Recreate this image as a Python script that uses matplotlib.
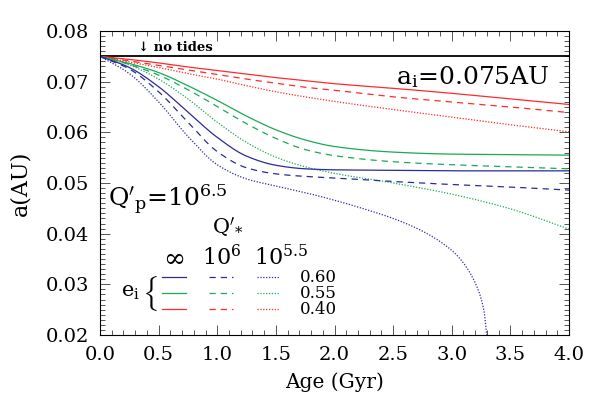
import matplotlib
import numpy as np

matplotlib.use("Agg")
import matplotlib.pyplot as plt
from matplotlib.ticker import MultipleLocator, FormatStrFormatter

plt.rcParams["font.family"] = ["DejaVu Serif"]
plt.rcParams["mathtext.fontset"] = "dejavuserif"

t_ref = [0.0, 0.25, 0.5, 0.75, 1.0, 1.25, 1.5, 1.75, 2.0, 2.5, 3.0, 3.5, 4.0]

# e_i = 0.40 (red)
red_inf = [0.0750, 0.0744, 0.0737, 0.0729, 0.0722, 0.0715, 0.0708, 0.0702, 0.0696, 0.0687, 0.0677, 0.0666, 0.0655]
red_q6 = [0.0750, 0.0741, 0.0732, 0.0723, 0.0714, 0.0705, 0.0697, 0.0689, 0.0683, 0.0670, 0.0660, 0.0650, 0.0639]
red_q55 = [0.0750, 0.0739, 0.0728, 0.0716, 0.0705, 0.0692, 0.0680, 0.0670, 0.0661, 0.0645, 0.0630, 0.0615, 0.0601]

# e_i = 0.55 (green)
green_inf = [0.0750, 0.0736, 0.0718, 0.0692, 0.0663, 0.0632, 0.0605, 0.0585, 0.0572, 0.0561, 0.0557, 0.0556, 0.0555]
green_q6 = [0.0750, 0.0734, 0.0713, 0.0684, 0.0651, 0.0617, 0.0588, 0.0566, 0.0554, 0.0542, 0.0536, 0.0532, 0.0528]
green_q55 = [0.0750, 0.0733, 0.0705, 0.0666, 0.0620, 0.0580, 0.0551, 0.0532, 0.0519, 0.0500, 0.0478, 0.0449, 0.0409]

# e_i = 0.60 (blue)
blue_inf = [0.0750, 0.0728, 0.0690, 0.0640, 0.0590, 0.0553, 0.0535, 0.0528, 0.0526, 0.0525, 0.0524, 0.0524, 0.0524]
blue_q6 = [0.0750, 0.0725, 0.0680, 0.0620, 0.0562, 0.0530, 0.0518, 0.0513, 0.0510, 0.0503, 0.0497, 0.0492, 0.0486]
t_blue_q55 = [0.0, 0.25, 0.5, 0.75, 1.0, 1.25, 1.5, 1.75, 2.0, 2.25, 2.5, 2.75, 3.0, 3.1, 3.2, 3.25, 3.28, 3.3]
blue_q55 = [0.0750, 0.0716, 0.0660, 0.0592, 0.0536, 0.0508, 0.0494, 0.0481, 0.0466, 0.0449, 0.0430, 0.0405,
            0.0367, 0.0342, 0.0303, 0.0272, 0.0240, 0.0195]

a_init = 0.075
ecc_labels = ["0.60", "0.55", "0.40"]

RED = "#ff2a2a"
GREEN = "#1aaa55"
BLUE = "#2b2b99"
SOLID = "-"
DASHED = (0, (5, 4))
DOTTED = (0, (1, 1.3))


def pchip(t, a, n=400):
    """Monotone cubic (Fritsch-Carlson) interpolation through the read points."""
    x = np.asarray(t, float)
    y = np.asarray(a, float)
    h = np.diff(x)
    d = np.diff(y) / h
    m = np.zeros_like(y)
    m[0], m[-1] = d[0], d[-1]
    for i in range(1, len(y) - 1):
        if d[i - 1] * d[i] <= 0:
            m[i] = 0.0
        else:
            w1 = 2 * h[i] + h[i - 1]
            w2 = h[i] + 2 * h[i - 1]
            m[i] = (w1 + w2) / (w1 / d[i - 1] + w2 / d[i])
    xx = np.linspace(x[0], x[-1], n)
    k = np.clip(np.searchsorted(x, xx) - 1, 0, len(x) - 2)
    s = (xx - x[k]) / h[k]
    h00 = 2 * s**3 - 3 * s**2 + 1
    h10 = s**3 - 2 * s**2 + s
    h01 = -2 * s**3 + 3 * s**2
    h11 = s**3 - s**2
    yy = h00 * y[k] + h10 * h[k] * m[k] + h01 * y[k + 1] + h11 * h[k] * m[k + 1]
    return xx, yy


fig = plt.figure(figsize=(5.99, 3.99), dpi=100)
ax = fig.add_axes([100 / 599, 64 / 399, 469 / 599, 304 / 399])

ax.axhline(a_init, color="black", lw=1.3)

curves = [
    (t_ref, red_inf, RED, SOLID), (t_ref, red_q6, RED, DASHED), (t_ref, red_q55, RED, DOTTED),
    (t_ref, green_inf, GREEN, SOLID), (t_ref, green_q6, GREEN, DASHED), (t_ref, green_q55, GREEN, DOTTED),
    (t_ref, blue_inf, BLUE, SOLID), (t_ref, blue_q6, BLUE, DASHED), (t_blue_q55, blue_q55, BLUE, DOTTED),
]
for t, a, c, ls in curves:
    tt, aa = pchip(t, a)
    ax.plot(tt, aa, color=c, ls=ls, lw=0.9)

ax.set_xlim(0, 4)
ax.set_ylim(0.02, 0.08)
ax.xaxis.set_major_locator(MultipleLocator(0.5))
ax.xaxis.set_minor_locator(MultipleLocator(0.1))
ax.yaxis.set_major_locator(MultipleLocator(0.01))
ax.yaxis.set_minor_locator(MultipleLocator(0.001))
ax.tick_params(which="both", direction="in", top=True, right=True, labelsize=14, width=0.7, color="#555555")
ax.tick_params(which="major", length=7, pad=8)
ax.tick_params(which="minor", length=3.5)
ax.xaxis.set_major_formatter(FormatStrFormatter("%.1f"))
ax.yaxis.set_major_formatter(FormatStrFormatter("%.2f"))
for s in ax.spines.values():
    s.set_linewidth(0.8)

ax.set_xlabel("Age (Gyr)", fontsize=14.5, labelpad=6)
ax.set_ylabel("a(AU)", fontsize=16, labelpad=10)

ax.text(0.081, 0.947, "\u2193 no tides", transform=ax.transAxes, fontsize=9.5, fontweight="bold", va="center")
ax.text(0.959, 0.849, r"a$_{\rm i}$=0.075AU", transform=ax.transAxes, fontsize=18, ha="right", va="center")
ax.text(0.017, 0.445, r"$\mathrm{Q}'_\mathrm{p}$=10$^{6.5}$", transform=ax.transAxes, fontsize=18, va="center")

# legend block
ax.text(0.271, 0.355, r"$\mathrm{Q}'_{*}$", transform=ax.transAxes, fontsize=15, ha="center", va="center")
ax.text(0.156, 0.254, r"$\infty$", transform=ax.transAxes, fontsize=19, ha="center", va="center")
ax.text(0.260, 0.254, r"10$^{6}$", transform=ax.transAxes, fontsize=16, ha="center", va="center")
ax.text(0.386, 0.254, r"10$^{5.5}$", transform=ax.transAxes, fontsize=16, ha="center", va="center")
ax.text(0.064, 0.141, r"e$_{\rm i}$", transform=ax.transAxes, fontsize=15, ha="center", va="center")
ax.text(0.107, 0.136, r"$\{$", transform=ax.transAxes, fontsize=21, ha="center", va="center",
        math_fontfamily="cm")

row_y = [0.190, 0.138, 0.0845]
row_colors = [BLUE, GREEN, RED]
seg_x = [(0.1315, 0.1825), (0.232, 0.284), (0.335, 0.384)]
seg_ls = [SOLID, DASHED, DOTTED]
for y, c, lab in zip(row_y, row_colors, ecc_labels):
    for (x0, x1), ls in zip(seg_x, seg_ls):
        ax.plot([x0, x1], [y, y], transform=ax.transAxes, color=c, ls=ls, lw=0.9)
    ax.text(0.426, y, lab, transform=ax.transAxes, fontsize=12, va="center")

fig.savefig("out.png", dpi=100)
